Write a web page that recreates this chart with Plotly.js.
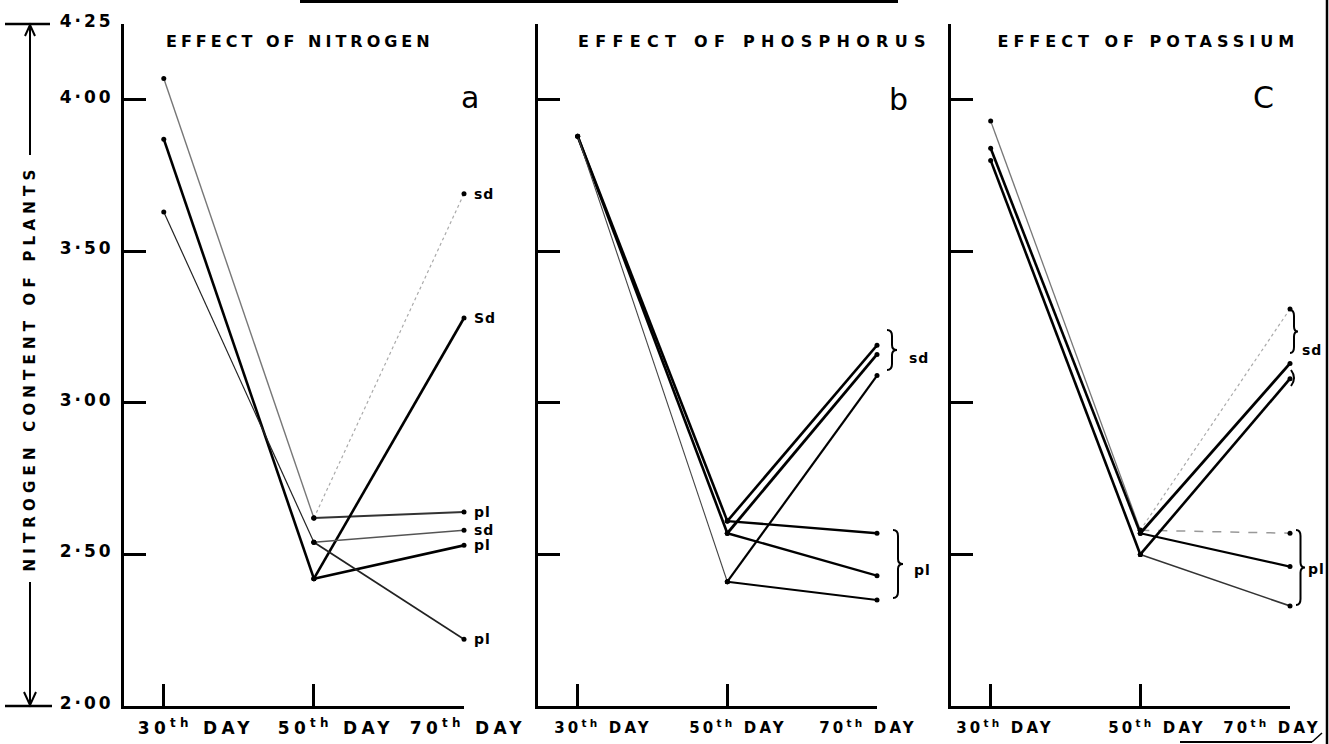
<!DOCTYPE html>
<html><head><meta charset="utf-8">
<script src="https://cdn.plot.ly/plotly-3.0.1.min.js"></script>
<style>
html,body{margin:0;padding:0;background:#fff;}
#chart{width:1329px;height:744px;}
.ytick text{letter-spacing:3px;}
</style></head>
<body><div id="chart"></div>
<script>
// ---------- data ----------
const days = [30, 50, 70];
const dayLabels = ['30<sup>th</sup> DAY', '50<sup>th</sup> DAY', '70<sup>th</sup> DAY'];
const yTickVals = [2.0, 2.5, 3.0, 3.5, 4.0, 4.25];
const yTickText = ['2·00', '2·50', '3·00', '3·50', '4·00', '4·25'];
const panelTitles = ['EFFECT OF NITROGEN', 'EFFECT OF PHOSPHORUS', 'EFFECT OF POTASSIUM'];
const panelLetters = ['a', 'b', 'C'];
const yTitle = 'NITROGEN CONTENT OF PLANTS';

// Effect of nitrogen (a)
const nitrogenDay30 = [4.07, 3.87, 3.63];
const nitrogenDay50 = [2.62, 2.42, 2.54];
const nitrogenSd70 = [3.69, 3.28, 2.58];
const nitrogenPl70 = [2.64, 2.53, 2.22];
const nitrogenSdLabels = ['sd', 'Sd', 'sd'];
const nitrogenPlLabels = ['pl', 'pl', 'pl'];

// Effect of phosphorus (b)
const phosphorusDay30 = [3.88, 3.88, 3.88];
const phosphorusDay50 = [2.61, 2.57, 2.41];
const phosphorusSd70 = [3.19, 3.16, 3.09];
const phosphorusPl70 = [2.57, 2.43, 2.35];

// Effect of potassium (c)
const potassiumDay30 = [3.93, 3.84, 3.80];
const potassiumDay50 = [2.58, 2.57, 2.50];
const potassiumSd70 = [3.31, 3.13, 3.08];
const potassiumPl70 = [2.57, 2.46, 2.33];

const groupLabels = ['sd', 'pl'];

// ---------- layout helpers ----------
const W = 1329, H = 744;
const px = x => x / W;
const py = y => 1 - y / H;
const mean = a => a.reduce((s, v) => s + v, 0) / a.length;

const panels = [
  {d30: nitrogenDay30, d50: nitrogenDay50, sd: nitrogenSd70, pl: nitrogenPl70},
  {d30: phosphorusDay30, d50: phosphorusDay50, sd: phosphorusSd70, pl: phosphorusPl70},
  {d30: potassiumDay30, d50: potassiumDay50, sd: potassiumSd70, pl: potassiumPl70}
];
const axIds = [['x', 'y'], ['x2', 'y2'], ['x3', 'y3']];

const K = '#000';
const styles = [
  [
    {early: {color: '#777', width: 1.4}, sd: {color: '#aaa', width: 1.2, dash: 'dot'}, pl: {color: '#333', width: 2}},
    {early: {color: K, width: 2.6}, sd: {color: K, width: 2.6}, pl: {color: K, width: 2.6}},
    {early: {color: '#222', width: 1.2}, sd: {color: '#555', width: 1.4}, pl: {color: '#222', width: 1.8}}
  ],
  [
    {early: {color: K, width: 2.6}, sd: {color: K, width: 2.6}, pl: {color: K, width: 2.4}},
    {early: {color: K, width: 2.6}, sd: {color: K, width: 2.8}, pl: {color: K, width: 2.4}},
    {early: {color: '#444', width: 1.1}, sd: {color: K, width: 2.2}, pl: {color: K, width: 2}}
  ],
  [
    {early: {color: '#777', width: 1.3}, sd: {color: '#aaa', width: 1.2, dash: 'dot'}, pl: {color: '#999', width: 1.5, dash: 'dash'}},
    {early: {color: K, width: 2.6}, sd: {color: K, width: 2.8}, pl: {color: K, width: 2.2}},
    {early: {color: K, width: 2.6}, sd: {color: K, width: 2.6}, pl: {color: '#333', width: 1.6}}
  ]
];

const traces = [];
panels.forEach((p, pi) => {
  const [xa, ya] = axIds[pi];
  for (let i = 0; i < p.d30.length; i++) {
    const st = styles[pi][i];
    const base = {type: 'scatter', mode: 'lines+markers', xaxis: xa, yaxis: ya, cliponaxis: false,
      showlegend: false, hoverinfo: 'skip', marker: {size: 5, color: K}};
    traces.push(Object.assign({}, base, {x: [days[0], days[1]], y: [p.d30[i], p.d50[i]], line: st.early}));
    traces.push(Object.assign({}, base, {x: [days[1], days[2]], y: [p.d50[i], p.sd[i]], line: st.sd}));
    traces.push(Object.assign({}, base, {x: [days[1], days[2]], y: [p.d50[i], p.pl[i]], line: st.pl}));
  }
});

const xDomPx = [[124, 464], [538, 877], [951, 1290]];
const yDom = [py(706), py(24)];

const layout = {
  width: W, height: H,
  margin: {l: 0, r: 0, t: 0, b: 0},
  paper_bgcolor: '#fff', plot_bgcolor: 'rgba(0,0,0,0)',
  showlegend: false,
  annotations: [], shapes: []
};

xDomPx.forEach((d, pi) => {
  const sfx = pi === 0 ? '' : String(pi + 1);
  layout['xaxis' + sfx] = {
    domain: [px(d[0]), px(d[1])], range: [24.7, 70], anchor: 'y' + sfx,
    showline: true, linewidth: 3, linecolor: K,
    ticks: 'inside', ticklen: 22, tickwidth: 3, tickcolor: K,
    tickvals: days, showticklabels: false,
    showgrid: false, zeroline: false, fixedrange: true
  };
  layout['yaxis' + sfx] = {
    domain: yDom, range: [2, 4.25], anchor: 'x' + sfx,
    showline: true, linewidth: 3, linecolor: K,
    ticks: 'inside', ticklen: 22, tickwidth: 3, tickcolor: K,
    tickvals: yTickVals, ticktext: yTickText,
    showticklabels: pi === 0, tickfont: {family: 'DejaVu Sans', size: 17, color: K, weight: 'bold'},
    ticklabelstandoff: 4, ticklabelshift: -3,
    showgrid: false, zeroline: false, fixedrange: true
  };
});

const spacing = []; // [annotation index, letter spacing px]
function addAnn(a, ls) {
  layout.annotations.push(a);
  if (ls) spacing.push([layout.annotations.length - 1, ls]);
}

// panel titles
const titleCenters = [300, 755, 1148];
const titleSpacing = [4, 6.3, 5];
panelTitles.forEach((t, i) => {
  addAnn({text: t, xref: 'paper', yref: 'paper', x: px(titleCenters[i]), y: py(42),
    xanchor: 'center', yanchor: 'middle', showarrow: false,
    font: {family: 'DejaVu Sans', size: 16, color: K, weight: 'bold'}}, titleSpacing[i]);
});
// y-axis title
addAnn({text: yTitle, xref: 'paper', yref: 'paper', x: px(30), y: py(368),
  xanchor: 'center', yanchor: 'middle', textangle: -90, showarrow: false,
  font: {family: 'DejaVu Sans', size: 15, color: K, weight: 'bold'}}, 5.2);

// x tick labels (drawn below each axis)
const dayLabelShift = [[32, 22, 4], [26, 11, -9], [15, 17, -18]];
const dayLabelSize = [17, 15, 15];
const dayLabelSpacing = [4.3, 3.2, 3.2];
axIds.forEach((ids, pi) => {
  days.forEach((d, j) => {
    addAnn({text: dayLabels[j], xref: ids[0], yref: 'paper', x: d, y: py(727),
      xanchor: 'center', yanchor: 'middle', xshift: dayLabelShift[pi][j], showarrow: false,
      font: {family: 'DejaVu Sans', size: dayLabelSize[pi], color: K, weight: 'bold'}}, dayLabelSpacing[pi]);
  });
});

// panel letters
const letterPos = [[470, 97], [898, 99], [1263, 97]];
panelLetters.forEach((t, i) => {
  addAnn({text: t, xref: 'paper', yref: 'paper', x: px(letterPos[i][0]), y: py(letterPos[i][1]),
    xanchor: 'center', yanchor: 'middle', showarrow: false,
    font: {family: 'DejaVu Sans', size: 30, color: K}});
});

// end labels in panel a
const lblFont = {family: 'DejaVu Sans', size: 14, color: K, weight: 'bold'};
for (let i = 0; i < nitrogenSd70.length; i++) {
  addAnn({text: nitrogenSdLabels[i], xref: 'x', yref: 'y', x: days[2], y: nitrogenSd70[i],
    xanchor: 'left', yanchor: 'middle', xshift: 9, showarrow: false, font: lblFont}, 1);
  addAnn({text: nitrogenPlLabels[i], xref: 'x', yref: 'y', x: days[2], y: nitrogenPl70[i],
    xanchor: 'left', yanchor: 'middle', xshift: 9, showarrow: false, font: lblFont}, 1);
}
// grouped labels in panels b and c
[[phosphorusSd70, phosphorusPl70, 'x2', 'y2', [31, 36]], [potassiumSd70, potassiumPl70, 'x3', 'y3', [11, 17]]].forEach(g => {
  addAnn({text: groupLabels[0], xref: g[2], yref: g[3], x: days[2], y: mean(g[0]),
    xanchor: 'left', yanchor: 'middle', xshift: g[4][0], showarrow: false, font: lblFont}, 1);
  addAnn({text: groupLabels[1], xref: g[2], yref: g[3], x: days[2], y: mean(g[1]),
    xanchor: 'left', yanchor: 'middle', xshift: g[4][1], showarrow: false, font: lblFont}, 1);
});

// letter spacing rules for hand-lettered look
const css = spacing.map(s => '.annotation[data-index="' + s[0] + '"] text{letter-spacing:' + s[1] + 'px;}').join('\n');
const styleEl = document.createElement('style');
styleEl.textContent = css;
document.head.appendChild(styleEl);

// decorative shapes
function line(x0, y0, x1, y1, w) {
  return {type: 'line', xref: 'paper', yref: 'paper', x0: px(x0), y0: py(y0), x1: px(x1), y1: py(y1),
    line: {color: K, width: w}};
}
function pathShape(pts, w) {
  return {type: 'path', xref: 'paper', yref: 'paper', path: pts, line: {color: K, width: w}};
}
function P(x, y) { return px(x) + ',' + py(y); }
function brace(x, y0, y1, w) {
  const ym = (y0 + y1) / 2, h = w / 2;
  return 'M' + P(x, y0) + ' Q' + P(x + h, y0) + ' ' + P(x + h, y0 + 6) +
    ' L' + P(x + h, ym - 5) + ' Q' + P(x + h, ym) + ' ' + P(x + w, ym) +
    ' Q' + P(x + h, ym) + ' ' + P(x + h, ym + 5) + ' L' + P(x + h, y1 - 6) +
    ' Q' + P(x + h, y1) + ' ' + P(x, y1);
}
layout.shapes.push(
  // y title arrow
  line(5, 24, 50, 24, 2.5),
  line(30, 24, 30, 155, 2),
  pathShape('M' + P(25, 36) + ' L' + P(30, 25) + ' L' + P(35, 36), 2),
  line(30, 582, 30, 705, 2),
  pathShape('M' + P(24, 692) + ' L' + P(30, 705) + ' L' + P(36, 692), 2),
  line(5, 706, 52, 706, 2.5),
  // braces
  pathShape(brace(887, 330, 370, 10), 2),
  pathShape(brace(893, 530, 598, 10), 2),
  pathShape(brace(1290, 310, 353, 8), 2),
  pathShape('M' + P(1291, 370) + ' Q' + P(1297, 378) + ' ' + P(1291, 386), 2),
  pathShape(brace(1296, 530, 605, 9), 2),
  // page marks
  line(300, 1.5, 898, 1.5, 3),
  line(1327, 0, 1327, 744, 2.5),
  line(1180, 742, 1312, 742, 2),
  line(1312, 742, 1322, 733, 1.5)
);

Plotly.newPlot('chart', traces, layout, {staticPlot: true, displayModeBar: false});
</script></body></html>
